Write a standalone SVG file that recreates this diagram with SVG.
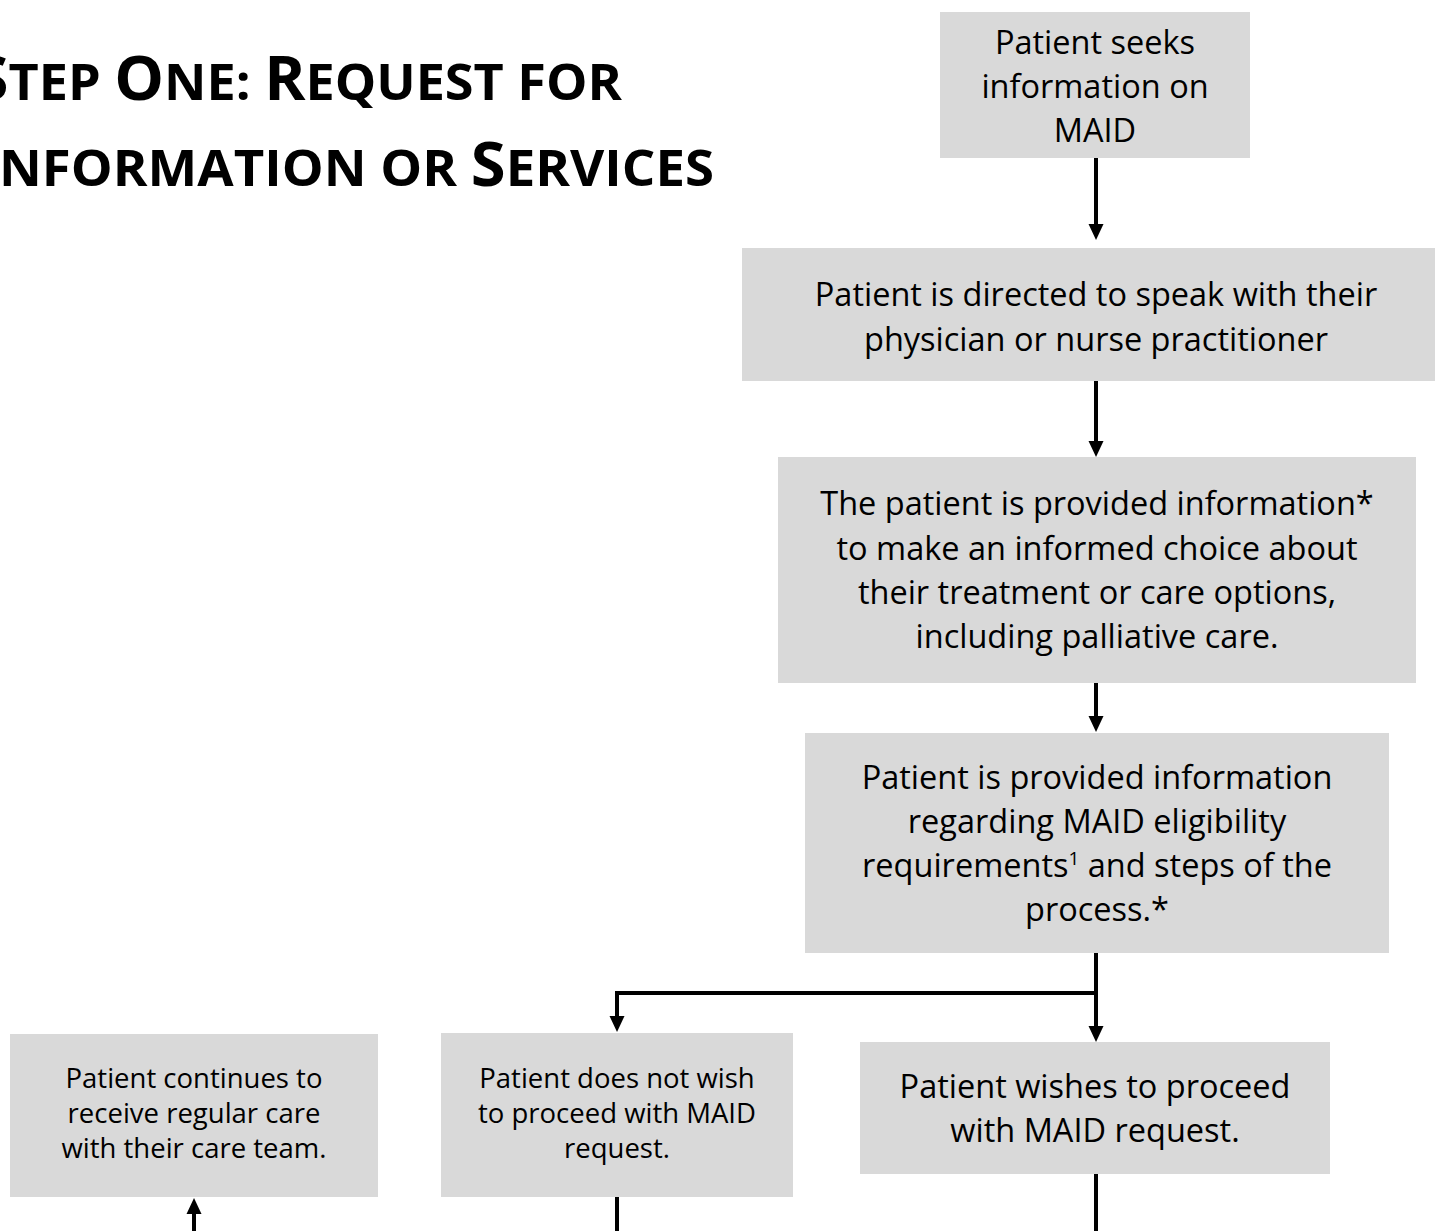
<svg xmlns="http://www.w3.org/2000/svg" width="1435" height="1231" viewBox="0 0 1435 1231">
<style>
.box{fill:#d9d9d9}
.t{font-family:"Open Sans","Liberation Sans",sans-serif;font-size:32.5px;fill:#000;text-anchor:middle}
.s{font-family:"Open Sans","Liberation Sans",sans-serif;font-size:27.5px;fill:#000;text-anchor:middle}
.title{font-family:"Open Sans","Liberation Sans",sans-serif;font-weight:700;fill:#000}
.big{font-size:60px}
.sm{font-size:50px}
.c{fill:none;stroke:#000;stroke-width:4}
</style>
<defs>
<marker id="ah" markerUnits="userSpaceOnUse" markerWidth="16" markerHeight="16" viewBox="0 0 16 16" refX="10" refY="8" orient="auto">
<path d="M0,0.5 L16,8 L0,15.5 z" fill="#000"/>
</marker>
</defs>
<g id="title">
<text class="title" y="100" x="-26" textLength="648" lengthAdjust="spacingAndGlyphs"><tspan class="big">S</tspan><tspan class="sm">TEP </tspan><tspan class="big">O</tspan><tspan class="sm">NE: </tspan><tspan class="big">R</tspan><tspan class="sm">EQUEST FOR</tspan></text>
<text class="title" y="186" x="-22" textLength="736" lengthAdjust="spacingAndGlyphs"><tspan class="big">I</tspan><tspan class="sm">NFORMATION OR </tspan><tspan class="big">S</tspan><tspan class="sm">ERVICES</tspan></text>
</g>
<g id="connectors">
<path class="c" d="M1096,158 V234" marker-end="url(#ah)"/>
<path class="c" d="M1096,381 V451" marker-end="url(#ah)"/>
<path class="c" d="M1096,683 V726" marker-end="url(#ah)"/>
<path class="c" d="M1096,953 V1036" marker-end="url(#ah)"/>
<path class="c" d="M1096,993 H617 V1026" marker-end="url(#ah)"/>
<path class="c" d="M617,1197 V1231"/>
<path class="c" d="M1096,1174 V1231"/>
<path class="c" d="M194,1231 V1204" marker-end="url(#ah)"/>
</g>
<g id="n1">
<rect class="box" x="940" y="12" width="310" height="146"/>
<text class="t" x="1095" y="54">Patient seeks</text>
<text class="t" x="1095" y="98">information on</text>
<text class="t" x="1095" y="142">MAID</text>
</g>
<g id="n2">
<rect class="box" x="742" y="248" width="710" height="133"/>
<text class="t" x="1096" y="306">Patient is directed to speak with their</text>
<text class="t" x="1096" y="351">physician or nurse practitioner</text>
</g>
<g id="n3">
<rect class="box" x="778" y="457" width="638" height="226"/>
<text class="t" x="1097" y="515">The patient is provided information*</text>
<text class="t" x="1097" y="560">to make an informed choice about</text>
<text class="t" x="1097" y="604">their treatment or care options,</text>
<text class="t" x="1097" y="648">including palliative care.</text>
</g>
<g id="n4">
<rect class="box" x="805" y="733" width="584" height="220"/>
<text class="t" x="1097" y="789">Patient is provided information</text>
<text class="t" x="1097" y="833">regarding MAID eligibility</text>
<text class="t" x="1097" y="877">requirements<tspan font-size="19" dy="-12">1</tspan><tspan dy="12"> and steps of the</tspan></text>
<text class="t" x="1097" y="921">process.*</text>
</g>
<g id="n5">
<rect class="box" x="860" y="1042" width="470" height="132"/>
<text class="t" x="1095" y="1098">Patient wishes to proceed</text>
<text class="t" x="1095" y="1142">with MAID request.</text>
</g>
<g id="n6">
<rect class="box" x="441" y="1033" width="352" height="164"/>
<text class="s" x="617" y="1088">Patient does not wish</text>
<text class="s" x="617" y="1123">to proceed with MAID</text>
<text class="s" x="617" y="1158">request.</text>
</g>
<g id="n7">
<rect class="box" x="10" y="1034" width="368" height="163"/>
<text class="s" x="194" y="1088">Patient continues to</text>
<text class="s" x="194" y="1123">receive regular care</text>
<text class="s" x="194" y="1158">with their care team.</text>
</g>
</svg>
